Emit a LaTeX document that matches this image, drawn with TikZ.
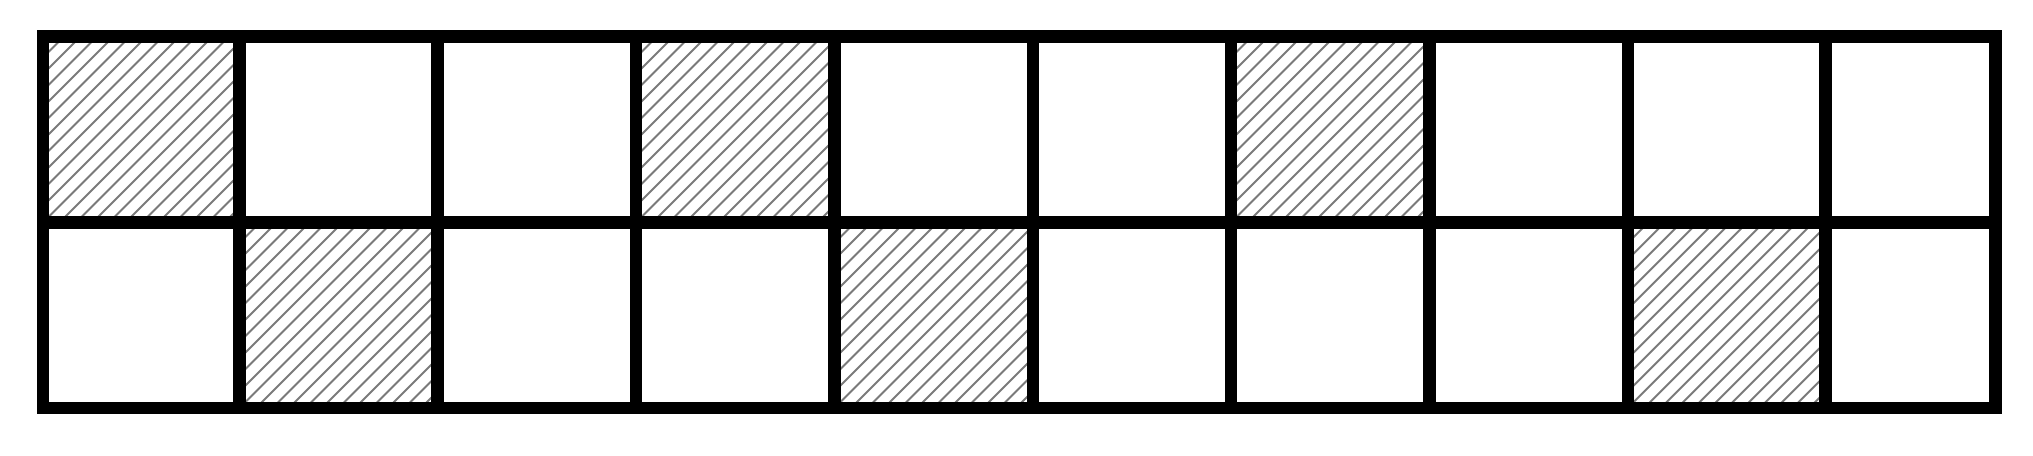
\documentclass[tikz,border=0pt]{standalone}
\begin{document}
\begin{tikzpicture}[x=1pt,y=-1pt,
  hatchline/.style={line width=1.9pt, draw=black!52},
  gridline/.style={line width=12.5pt, draw=black}]
\useasboundingbox (0,0) rectangle (2033,455);
\def\ya{36.5}\def\ym{222.5}\def\yb{408}
\def\xl{43}\def\xr{1995.5}
% hatched cells: left x / right x / top y / bottom y
\foreach \xa/\xb/\ta/\tb in {43/239.5/36.5/222.5, 636/834.5/36.5/222.5, 1231/1429.5/36.5/222.5,
    239.5/437.5/222.5/408, 834.5/1033/222.5/408, 1627.8/1825.5/222.5/408} {
  \begin{scope}
    \clip (\xa,\ta) rectangle (\xb,\tb);
    \foreach \k in {-13,...,13}
      \draw[hatchline] (\xa+\k*16.5,\tb) -- ++(200,-200);
  \end{scope}
}
\foreach \x in {239.5,437.5,636,834.5,1033,1231,1429.5,1627.8,1825.5}
  \draw[gridline] (\x,\ya) -- (\x,\yb);
\draw[gridline] (\xl,\ym) -- (\xr,\ym);
\draw[gridline] (\xl,\ya) rectangle (\xr,\yb);
\end{tikzpicture}
\end{document}
